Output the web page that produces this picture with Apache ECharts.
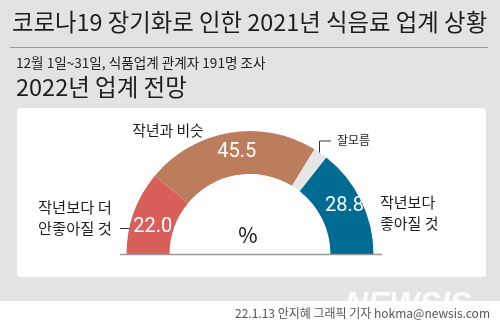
<!DOCTYPE html>
<html><head><meta charset="utf-8">
<script src="https://cdn.jsdelivr.net/npm/echarts@6/dist/echarts.min.js"></script>
<style>html,body{margin:0;padding:0;background:#fff}#c{width:500px;height:332px}</style>
</head><body><div id="c"></div>
<script>
const title = '코로나19 장기화로 인한 2021년 식음료 업계 상황';
const subtitle = '12월 1일~31일, 식품업계 관계자 191명 조사';
const chartTitle = '2022년 업계 전망';
const footer = '22.1.13 안지혜 그래픽 기자 hokma@newsis.com';
const categories = ['작년보다 더 안좋아질 것', '작년과 비슷', '잘모름', '작년보다 좋아질 것'];
const values = [22.0, 45.5, 3.7, 28.8];
const colors = ['#d9605a', '#bc7d5c', '#e6e6e6', '#006c93'];
const unit = '%';

const KR = '"Noto Sans CJK KR", "Noto Sans", sans-serif';
const NUM = 'Roboto, sans-serif';
const total = values.reduce((a, b) => a + b, 0);
const labelShift = [[1.5, 8.5], [4, 1], [0, 0], [0, -3]];

const data = values.map((v, i) => ({
  name: categories[i], value: v,
  itemStyle: { color: colors[i] },
  label: { show: i !== 2, offset: labelShift[i] }
}));
data.push({ name: '', value: total, itemStyle: { color: 'rgba(0,0,0,0)' }, label: { show: false }, silent: true });

const chart = echarts.init(document.getElementById('c'), null, { renderer: 'canvas' });
const g = [];
g.push({ type: 'rect', shape: { x: 0, y: 0, width: 500, height: 301 }, style: { fill: '#e3e3e3' }, z: -10 });
g.push({ type: 'rect', shape: { x: 17, y: 108, width: 469, height: 169, r: 4 }, style: { fill: '#ffffff' }, z: -9 });
g.push({ type: 'text', x: 12, y: 22, style: { text: title, font: '23.4px ' + KR, fill: '#1e1e1e', textVerticalAlign: 'middle' } });
g.push({ type: 'line', shape: { x1: 10, y1: 47.5, x2: 488, y2: 47.5 }, style: { stroke: '#9a9a9a', lineWidth: 1 } });
g.push({ type: 'text', x: 16, y: 63, style: { text: subtitle, font: '13.6px ' + KR, fill: '#222', textVerticalAlign: 'middle' } });
g.push({ type: 'text', x: 16, y: 87, style: { text: chartTitle, font: '23.5px ' + KR, fill: '#1e1e1e', textVerticalAlign: 'middle' } });
// baseline
g.push({ type: 'line', shape: { x1: 120, y1: 254.5, x2: 382, y2: 254.5 }, style: { stroke: '#999', lineWidth: 1.5 }, z: 10 });
// category labels
const leftParts = ['작년보다 더', '안좋아질 것'];
const rightParts = ['작년보다', '좋아질 것'];
g.push({ type: 'text', x: 38, y: 207, style: { text: leftParts[0], font: '15.3px ' + KR, fill: '#1e1e1e', textVerticalAlign: 'middle' } });
g.push({ type: 'text', x: 38, y: 228, style: { text: leftParts[1], font: '15.3px ' + KR, fill: '#1e1e1e', textVerticalAlign: 'middle' } });
g.push({ type: 'line', shape: { x1: 120, y1: 228.5, x2: 132, y2: 228.5 }, style: { stroke: '#333', lineWidth: 1 } });
g.push({ type: 'text', x: 168, y: 130, style: { text: categories[1], font: '14.8px ' + KR, fill: '#1e1e1e', textAlign: 'center', textVerticalAlign: 'middle' } });
g.push({ type: 'text', x: 337, y: 140, style: { text: categories[2], font: '12px ' + KR, fill: '#1e1e1e', textVerticalAlign: 'middle' } });
g.push({ type: 'polyline', shape: { points: [[319.5, 155], [319.5, 141], [331, 141]] }, style: { stroke: '#333', lineWidth: 1, fill: null } });
g.push({ type: 'text', x: 380, y: 202, style: { text: rightParts[0], font: '15px ' + KR, fill: '#1e1e1e', textVerticalAlign: 'middle' } });
g.push({ type: 'text', x: 380, y: 223, style: { text: rightParts[1], font: '15px ' + KR, fill: '#1e1e1e', textVerticalAlign: 'middle' } });
g.push({ type: 'text', x: 248, y: 235, style: { text: unit, font: '21px ' + KR, fill: '#111', textAlign: 'center', textVerticalAlign: 'middle' } });
// watermark + footer
g.push({ type: 'text', x: 408, y: 305, style: { text: 'NEWSIS', font: 'italic bold 32px "Liberation Sans", sans-serif', fill: 'rgba(255,255,255,0.85)', textAlign: 'center', textVerticalAlign: 'middle' }, z: 5 });
g.push({ type: 'text', x: 490, y: 313, style: { text: footer, font: '12px ' + KR, fill: '#555', textAlign: 'right', textVerticalAlign: 'middle' }, z: 6 });

chart.setOption({
  animation: false,
  backgroundColor: '#ffffff',
  graphic: { elements: g },
  series: [{
    type: 'pie',
    center: [250, 254.5],
    radius: [80.5, 123.5],
    startAngle: 180,
    clockwise: true,
    silent: true,
    z: 2,
    label: {
      show: true, position: 'inside', color: '#fff',
      fontFamily: NUM, fontSize: 20, overflow: 'none',
      formatter: p => p.value.toFixed(1)
    },
    labelLine: { show: false },
    itemStyle: { borderWidth: 0 },
    emphasis: { disabled: true },
    data: data
  }]
});
</script></body></html>
